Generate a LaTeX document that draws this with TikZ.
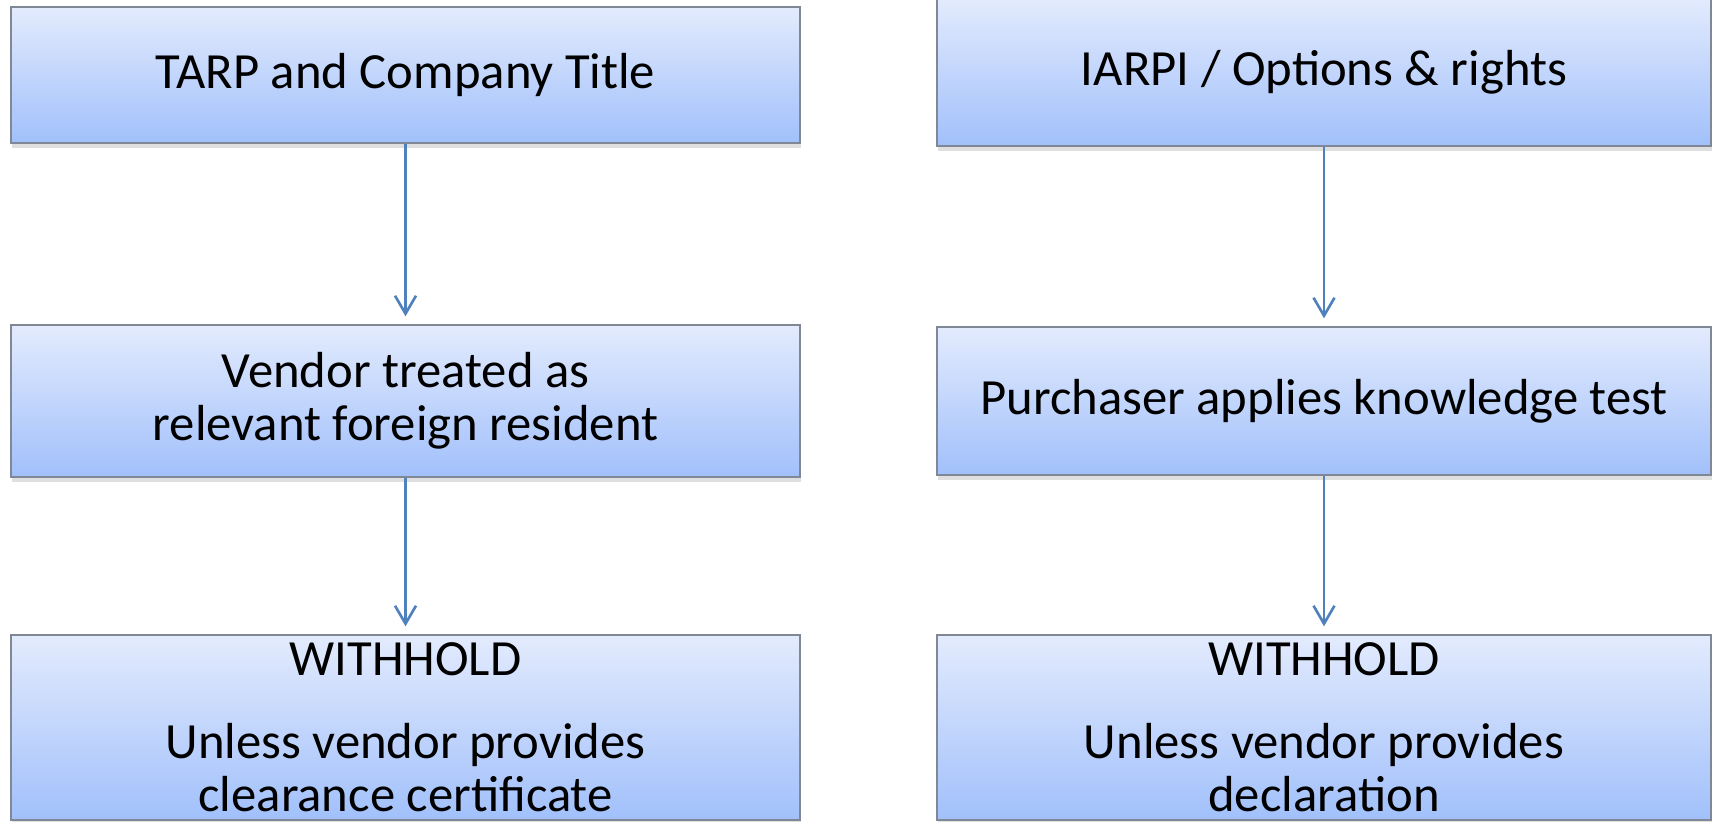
\documentclass[tikz,border=0pt]{standalone}
\usepackage{fontspec}
\setmainfont{Carlito}
\usetikzlibrary{arrows.meta,shadows}
\definecolor{boxtop}{RGB}{227,235,253}
\definecolor{boxbot}{RGB}{161,192,251}
\definecolor{boxline}{RGB}{128,136,150}
\definecolor{flowblue}{RGB}{79,129,189}

\begin{document}
\begin{tikzpicture}[x=0.02cm,y=-0.02cm,
    box/.style={rectangle, draw=boxline, line width=0.8pt,
      top color=boxtop, bottom color=boxbot, align=center, inner sep=0pt,
      font=\fontsize{28.85pt}{30.4pt}\selectfont,
      drop shadow={shadow xshift=0.6pt, shadow yshift=-3pt, opacity=0.25}},
    lbox/.style={box, minimum width=15.78cm},
    rbox/.style={box, minimum width=15.48cm},
    flow/.style={flowblue, line width=1.5pt,
      -{Straight Barb[length=0.36cm,width=0.42cm]}, shorten >=0.16cm}]
        \useasboundingbox (0,0) rectangle (1712,822);
        \node[lbox, minimum height=2.72cm] (T1) at (405.5,75) {TARP and Company Title};
        \node[lbox, minimum height=3.04cm] (T2) at (405.5,401) {Vendor treated as\\relevant foreign resident};
        \node[lbox, minimum height=3.7cm] (T3) at (405.5,727.5) {WITHHOLD\\[0.58cm]Unless vendor provides\\clearance certificate};
        \node[rbox, minimum height=2.96cm] (I1) at (1324,72) {IARPI / Options \& rights};
        \node[rbox, minimum height=2.96cm] (I2) at (1324,401) {Purchaser applies knowledge test};
        \node[rbox, minimum height=3.7cm] (I3) at (1324,727.5) {WITHHOLD\\[0.58cm]Unless vendor provides\\declaration};
        \draw[flow] (T1) -- (T2);
        \draw[flow] (T2) -- (T3);
        \draw[flow] (I1) -- (I2);
        \draw[flow] (I2) -- (I3);
    \end{tikzpicture}
\end{document}
